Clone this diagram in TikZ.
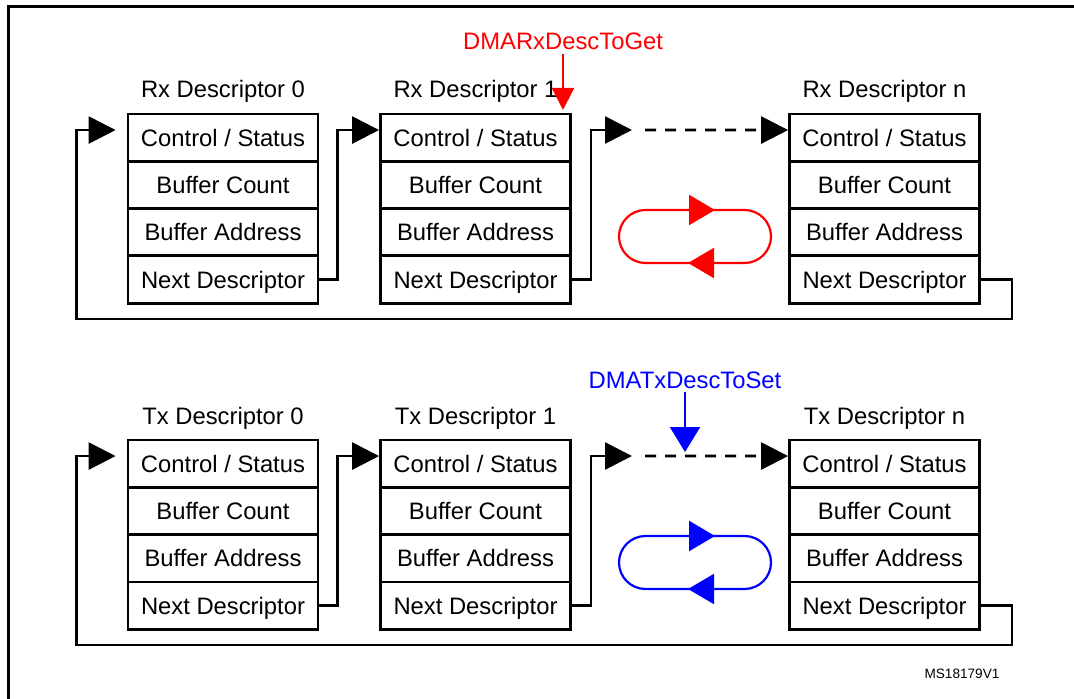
\documentclass[tikz,border=0pt]{standalone}
\usepackage{fontspec}
\setmainfont{Liberation Sans}
\usetikzlibrary{arrows.meta}

\begin{document}
\begin{tikzpicture}[x=0.5pt,y=-0.5pt,
    field/.style={draw, line width=1.4pt, minimum width=95pt, minimum height=23.65pt, inner sep=0pt, text height=8.5pt, text depth=0pt, font=\fontsize{11.9}{14}\selectfont},
    title/.style={anchor=base, inner sep=1.5pt, font=\fontsize{11.9}{14}\selectfont},
    link/.style={line width=1.3pt, -{Triangle[length=13.5pt,width=13.5pt]}},
    ring/.style={line width=1.1pt, rounded corners=13.25pt}]
\useasboundingbox (0,0) rectangle (1074,699);
\draw[line width=1.5pt] (8,699) -- (8,7) -- (1074,7);

% descriptor chains
\foreach \dir/\yy/\col in {Rx/0/red, Tx/326/blue} {
  \foreach \n/\xx in {0/223, 1/475.5, n/884.5} {
    \node[title] (\dir\n t) at (\xx,98+\yy) {\dir{} Descriptor \n};
    \node[field] (\dir\n cs) at (\xx,137.65+\yy) {Control / Status};
    \node[field] (\dir\n bc) at (\xx,184.95+\yy) {Buffer Count};
    \node[field] (\dir\n ba) at (\xx,232.25+\yy) {Buffer Address};
    \node[field] (\dir\n nd) at (\xx,279.55+\yy) {Next Descriptor};
  }
  \coordinate (\dir gap) at (632,130+\yy);
  \coordinate (\dir back) at (1012,319+\yy);
  \draw[link] (\dir0nd.east) -- ++(18,0) |- ([yshift=3.8pt]\dir1cs.west);
  \draw[link] (\dir1nd.east) -- ++(19,0) |- (\dir gap);
  \draw[link, dash pattern=on 5.5pt off 4.5pt] ([xshift=6.5pt]\dir gap) -- ([yshift=3.8pt]\dir ncs.west);
  \draw[link, shorten >=5.5pt] (\dir nnd.east) -| (\dir back) -| ([xshift=-25pt]\dir0cs.west) |- ([yshift=3.8pt]\dir0cs.west);
  % ring symbol
  \draw[ring, \col] (619,210+\yy) rectangle (771,263+\yy);
  \draw[\col, line width=1.1pt, -{Triangle[length=13pt,width=15pt]}] (700,210+\yy) -- (715,210+\yy);
  \draw[\col, line width=1.1pt, -{Triangle[length=13pt,width=15pt]}] (703,263+\yy) -- (688,263+\yy);
}

% pointers
\node[title, text=red] (getlab) at (563,50) {DMARxDescToGet};
\coordinate (getptr) at (563,110);
\draw[red, line width=1.1pt, -{Triangle[length=11pt,width=11pt]}] (getlab) -- (getptr);
\node[title, text=blue] (setlab) at (685,388) {DMATxDescToSet};
\coordinate (setptr) at (685,452);
\draw[blue, line width=1.1pt, -{Triangle[length=12.5pt,width=15pt]}] (setlab) -- (setptr);

\node[anchor=base, font=\fontsize{6.8}{8}\selectfont] (msref) at (962,678) {MS18179V1};
\end{tikzpicture}
\end{document}
